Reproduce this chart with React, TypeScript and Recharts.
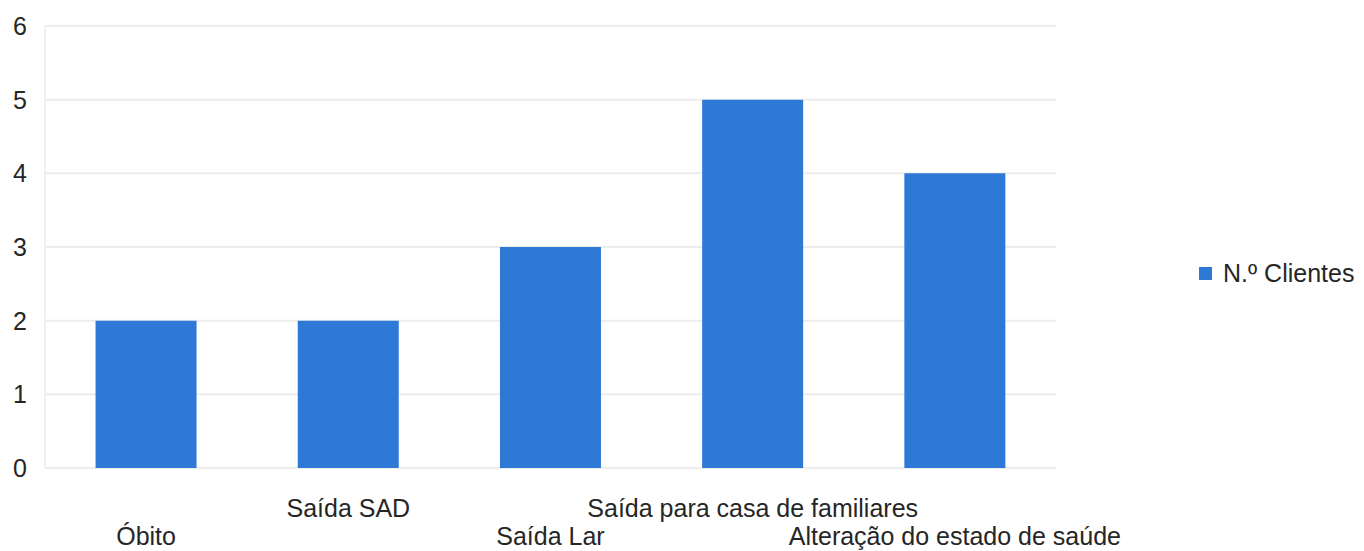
import React from "react";
import { BarChart, Bar, XAxis, YAxis, CartesianGrid } from "recharts";

const categories = [
  "Óbito",
  "Saída SAD",
  "Saída Lar",
  "Saída para casa de familiares",
  "Alteração do estado de saúde",
];
const clientes = [2, 2, 3, 5, 4];
const yTicks = [0, 1, 2, 3, 4, 5, 6];

const data = categories.map((name, i) => ({ name, clientes: clientes[i] }));

const FONT = "'Liberation Sans', Arial, sans-serif";
const BLUE = "#2f79d6";
const TEXT = "#262626";

function StaggeredTick(props: any) {
  const { x, y, payload, index } = props;
  const dy = index % 2 === 0 ? 77 : 49;
  return (
    <text
      x={x}
      y={y + dy}
      textAnchor="middle"
      fontFamily={FONT}
      fontSize={25}
      fill={TEXT}
    >
      {payload.value}
    </text>
  );
}

export default function App() {
  return (
    <div style={{ position: "absolute", left: 0, top: 0, width: 1364, height: 551, background: "#fff" }}>
      <BarChart
        width={1364}
        height={551}
        data={data}
        margin={{ top: 26, right: 308, bottom: 0, left: 0 }}
        barCategoryGap="25%"
      >
        <CartesianGrid vertical={false} stroke="#ededed" strokeWidth={2} />
        <XAxis
          dataKey="name"
          interval={0}
          height={83}
          axisLine={false}
          tickLine={false}
          tickSize={0}
          tickMargin={0}
          tick={StaggeredTick}
        />
        <YAxis
          width={45}
          domain={[0, 6]}
          ticks={yTicks}
          axisLine={{ stroke: "#f0f0f0", strokeWidth: 2 }}
          tickLine={false}
          tickSize={0}
          tickMargin={18}
          tick={{ fontFamily: FONT, fontSize: 25, fill: TEXT }}
        />
        <Bar dataKey="clientes" name="N.º Clientes" fill={BLUE} isAnimationActive={false} />
      </BarChart>
      <div
        style={{
          position: "absolute",
          left: 1199,
          top: 259,
          display: "flex",
          alignItems: "center",
          fontFamily: FONT,
          fontSize: 25,
          color: TEXT,
        }}
      >
        <span style={{ display: "inline-block", width: 13, height: 13, background: BLUE, marginRight: 11 }} />
        <span style={{ whiteSpace: "nowrap" }}>N.º Clientes</span>
      </div>
    </div>
  );
}
